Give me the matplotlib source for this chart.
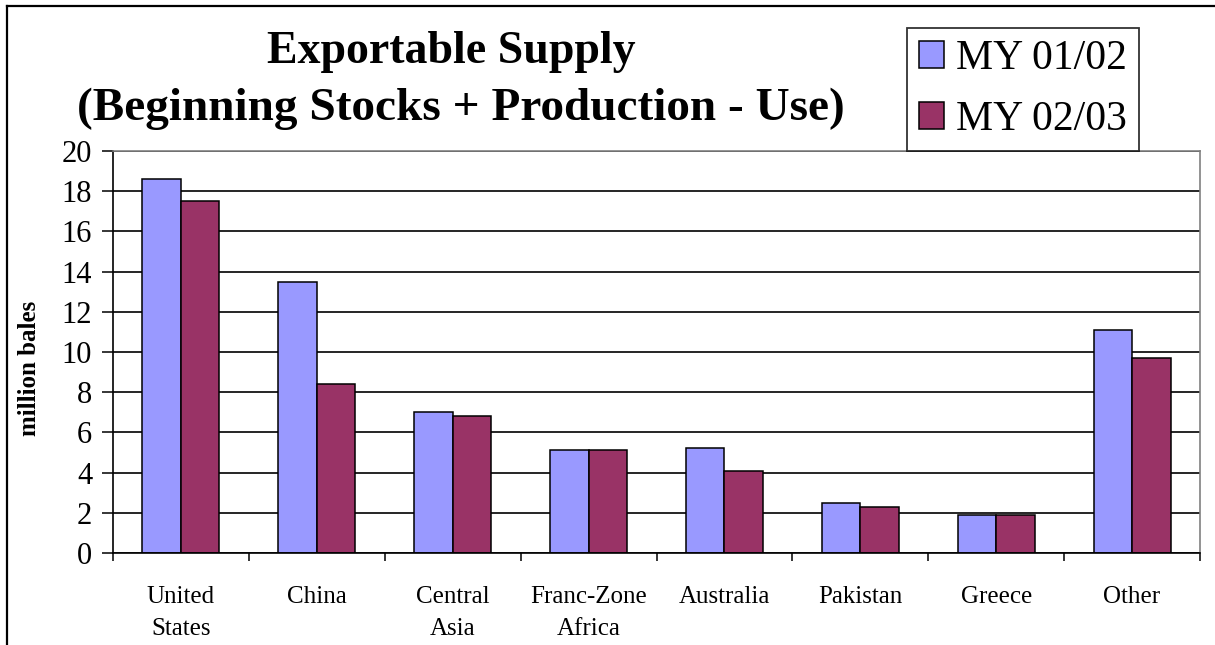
import numpy as np
import matplotlib
matplotlib.use("Agg")
from matplotlib import pyplot as plt
from matplotlib.lines import Line2D

# data
regions = ['United\nStates', 'China', 'Central\nAsia', 'Franc-Zone\nAfrica',
           'Australia', 'Pakistan', 'Greece', 'Other']
my_0102 = [18.6, 13.5, 7.0, 5.1, 5.2, 2.5, 1.9, 11.1]
my_0203 = [17.5, 8.4, 6.8, 5.1, 4.1, 2.3, 1.9, 9.7]
series_names = ['MY 01/02', 'MY 02/03']

plt.rcParams['font.family'] = ['Liberation Serif', 'DejaVu Serif']

W, H = 1215, 645
fig = plt.figure(figsize=(W / 100, H / 100), dpi=100)
ax = fig.add_axes([113 / W, 1 - 553 / H, (1200 - 113) / W, (553 - 151) / H])

x = np.arange(len(regions))
bw = 0.283
b1 = ax.bar(x - bw / 2, my_0102, width=bw, color='#9999FF', edgecolor='black',
            linewidth=1.1, label=series_names[0], zorder=2)
b2 = ax.bar(x + bw / 2, my_0203, width=bw, color='#993366', edgecolor='black',
            linewidth=1.1, label=series_names[1], zorder=2)

ax.set_xlim(-0.5, len(regions) - 0.5)
ax.set_ylim(0, 20)
ax.set_yticks(np.arange(0, 21, 2))
ax.tick_params(axis='y', labelsize=22, length=8, width=1.1, pad=7, direction='out')

# ticks between categories, labels in the middle
ax.set_xticks(np.arange(len(regions) + 1) - 0.5)
ax.set_xticklabels([])
ax.set_xticks(x, minor=True)
ax.set_xticklabels(regions, minor=True, fontsize=18, linespacing=1.57)
ax.tick_params(axis='x', which='major', length=6, width=1.1, direction='out')
ax.tick_params(axis='x', which='minor', length=0, pad=24)

ax.set_axisbelow(True)
ax.yaxis.grid(True, color='black', linewidth=1.2)
for s in ['top', 'right']:
    ax.spines[s].set_color('#808080')
    ax.spines[s].set_linewidth(1.2)
for s in ['left', 'bottom']:
    ax.spines[s].set_color('black')
    ax.spines[s].set_linewidth(1.2)

ax.set_ylabel('million bales', fontsize=18, fontweight='bold')
ax.yaxis.set_label_coords(-0.066, 0.46)

fig.text(451 / W, 1 - 63 / H, 'Exportable Supply', fontsize=33, fontweight='bold',
         ha='center', va='baseline')
fig.text(461 / W, 1 - 120 / H, '(Beginning Stocks + Production - Use)', fontsize=34,
         fontweight='bold', ha='center', va='baseline')

leg = fig.legend(handles=[b1, b2], loc='upper left',
                 bbox_to_anchor=(907 / W, 1 - 28 / H), borderaxespad=0,
                 fontsize=30, frameon=True, fancybox=False, shadow=False,
                 handlelength=0.6, handleheight=0.6, handletextpad=0.3,
                 borderpad=0.28, labelspacing=0.54)
leg.get_frame().set_edgecolor('black')
leg.get_frame().set_linewidth(1.3)

# outer border (left and top only visible)
fig.add_artist(Line2D([7 / W, 7 / W], [0, 1 - 6 / H], color='black', linewidth=1.6,
                      transform=fig.transFigure))
fig.add_artist(Line2D([7 / W, 1], [1 - 6 / H, 1 - 6 / H], color='black', linewidth=1.6,
                      transform=fig.transFigure))

fig.savefig('out.png', dpi=100)
